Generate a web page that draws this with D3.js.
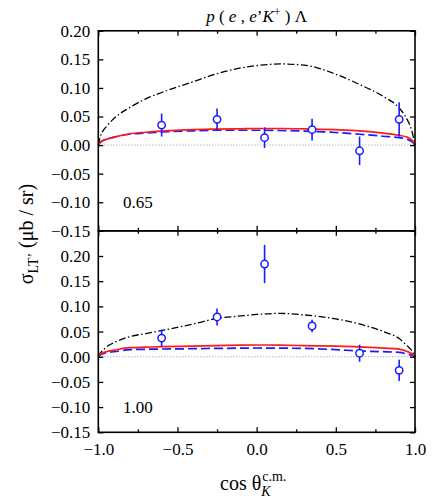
<!DOCTYPE html>
<html><head><meta charset="utf-8">
<script src="https://cdn.jsdelivr.net/npm/d3@7"></script>
</head><body style="margin:0">
<script>
// ---- data ----
const panelLabels = ["0.65", "1.00"];
const xTicks = [-1.0, -0.5, 0.0, 0.5, 1.0];
const xMinorTicks = [-0.75, -0.25, 0.25, 0.75];
const yTicks = [0.20, 0.15, 0.10, 0.05, 0.00, -0.05, -0.10, -0.15];

const dataX = [-0.6, -0.25, 0.05, 0.35, 0.65, 0.9];
const dataY065 = [0.035, 0.045, 0.013, 0.027, -0.010, 0.045];
const dataErr065 = [0.020, 0.019, 0.018, 0.019, 0.025, 0.030];
const dataY100 = [0.037, 0.079, 0.184, 0.061, 0.007, -0.027];
const dataErr100 = [0.017, 0.017, 0.038, 0.0125, 0.017, 0.021];

const curveX = [-1, -0.99, -0.97, -0.95, -0.9, -0.8, -0.7, -0.6, -0.4, -0.25, -0.1, 0.0, 0.15, 0.3, 0.5, 0.65, 0.8, 0.9, 0.95, 0.98, 1];
const dashDot065 = [0, 0.012, 0.025, 0.032, 0.047, 0.066, 0.081, 0.092, 0.111, 0.125, 0.135, 0.139, 0.142, 0.140, 0.124, 0.106, 0.085, 0.065, 0.045, 0.025, 0];
const solid065   = [0, 0.004, 0.008, 0.010, 0.014, 0.0198, 0.0225, 0.0245, 0.027, 0.028, 0.0285, 0.029, 0.029, 0.0285, 0.027, 0.025, 0.021, 0.017, 0.014, 0.009, 0];
const dashed065  = [0, 0.004, 0.008, 0.010, 0.014, 0.019, 0.021, 0.023, 0.025, 0.026, 0.026, 0.026, 0.0255, 0.0245, 0.022, 0.019, 0.0155, 0.013, 0.0105, 0.006, 0];
const dashDot100 = [0, 0.006, 0.013, 0.019, 0.028, 0.040, 0.046, 0.052, 0.065, 0.076, 0.081, 0.084, 0.086, 0.083, 0.075, 0.065, 0.050, 0.036, 0.022, 0.012, 0];
const solid100   = [0, 0.004, 0.008, 0.010, 0.013, 0.018, 0.019, 0.0199, 0.021, 0.022, 0.023, 0.0233, 0.023, 0.022, 0.021, 0.0195, 0.017, 0.015, 0.0105, 0.006, 0];
const dashed100  = [0, 0.003, 0.006, 0.008, 0.010, 0.014, 0.0148, 0.0153, 0.016, 0.0166, 0.017, 0.0173, 0.017, 0.0166, 0.014, 0.0115, 0.010, 0.0086, 0.0053, 0.003, 0];

// ---- layout ----
const FONT = "Liberation Serif";
const W = 436, H = 503;
const svg = d3.select("body").append("svg").attr("width", W).attr("height", H)
  .attr("font-family", FONT).style("display", "block");
const x = d3.scaleLinear().domain([-1, 1]).range([98.3, 415]);
const yTop = d3.scaleLinear().domain([-0.15, 0.20]).range([230.8, 30.8]);
const yBot = d3.scaleLinear().domain([-0.15, 0.25]).range([432.3, 230.8]);
const fmtY = d3.format(".2f"), fmtX = d3.format(".1f");
const BLUE = "#1a1aff", RED = "#ff1a1a";

const panels = [
  {y: yTop, label: panelLabels[0], labelY: 208, dy: dataY065, de: dataErr065, dd: dashDot065, so: solid065, da: dashed065},
  {y: yBot, label: panelLabels[1], labelY: 413, dy: dataY100, de: dataErr100, dd: dashDot100, so: solid100, da: dashed100}
];

panels.forEach((p, pi) => {
  const g = svg.append("g");
  const [yb, yt] = p.y.range();
  g.append("line").attr("x1", x(-1)).attr("x2", x(1)).attr("y1", p.y(0)).attr("y2", p.y(0))
    .attr("stroke", "#777").attr("stroke-width", 0.8).attr("stroke-dasharray", "1,2");
  const line = d3.line().x((d, i) => x(curveX[i])).y(d => p.y(d)).curve(d3.curveMonotoneX);
  g.append("path").attr("d", line(p.dd)).attr("fill", "none").attr("stroke", "#000")
    .attr("stroke-width", 1.3).attr("stroke-dasharray", "7,2.5,1.5,2.5");
  g.append("path").attr("d", line(p.da)).attr("fill", "none").attr("stroke", BLUE)
    .attr("stroke-width", 1.7).attr("stroke-dasharray", "9,4");
  g.append("path").attr("d", line(p.so)).attr("fill", "none").attr("stroke", RED)
    .attr("stroke-width", 1.7);
  dataX.forEach((xv, i) => {
    g.append("line").attr("x1", x(xv)).attr("x2", x(xv))
      .attr("y1", p.y(p.dy[i] - p.de[i])).attr("y2", p.y(p.dy[i] + p.de[i]))
      .attr("stroke", BLUE).attr("stroke-width", 1.6);
    g.append("circle").attr("cx", x(xv)).attr("cy", p.y(p.dy[i])).attr("r", 3.7)
      .attr("fill", "#fff").attr("stroke", BLUE).attr("stroke-width", 1.5);
  });
  const yv = yTicks.concat(pi === 1 ? [0.25] : []);
  const axL = d3.axisLeft(p.y).tickValues(yv).tickSizeInner(-5).tickSizeOuter(0).tickFormat(d => d > 0.21 ? "" : fmtY(d)).tickPadding(8);
  g.append("g").attr("transform", `translate(${x(-1)},0)`).call(axL);
  const axR = d3.axisRight(p.y).tickValues(yv).tickSizeInner(-5).tickSizeOuter(0).tickFormat("");
  g.append("g").attr("transform", `translate(${x(1)},0)`).call(axR);
  const axT = d3.axisTop(x).tickValues(xTicks).tickSizeInner(-5).tickSizeOuter(0).tickFormat("");
  const axTm = d3.axisTop(x).tickValues(xMinorTicks).tickSizeInner(-3).tickSizeOuter(0).tickFormat("");
  g.append("g").attr("transform", `translate(0,${yt})`).call(axT);
  g.append("g").attr("transform", `translate(0,${yt})`).call(axTm);
  const axB = d3.axisBottom(x).tickValues(xTicks).tickSizeInner(-5).tickSizeOuter(0)
    .tickFormat(pi === 1 ? fmtX : "").tickPadding(11);
  const axBm = d3.axisBottom(x).tickValues(xMinorTicks).tickSizeInner(-3).tickSizeOuter(0).tickFormat("");
  g.append("g").attr("transform", `translate(0,${yb})`).call(axB);
  g.append("g").attr("transform", `translate(0,${yb})`).call(axBm);
  g.selectAll(".domain").remove();
  g.selectAll("g").attr("font-family", FONT).attr("font-size", 17);
  g.selectAll(".tick line").attr("stroke", "#000").attr("stroke-width", 1.3);
  g.selectAll(".tick text").attr("font-family", FONT).attr("font-size", 17).attr("fill", "#000");
  g.append("rect").attr("x", x(-1)).attr("y", yt).attr("width", x(1) - x(-1)).attr("height", yb - yt)
    .attr("fill", "none").attr("stroke", "#000").attr("stroke-width", 1.6);
  g.append("text").attr("x", 123).attr("y", p.labelY).attr("font-family", FONT).attr("font-size", 17).text(p.label);
});

// title
const title = svg.append("text").attr("x", 256.6).attr("y", 22).attr("text-anchor", "middle")
  .attr("font-family", FONT).attr("font-size", 17);
title.append("tspan").attr("font-style", "italic").text("p");
title.append("tspan").text(" ( ");
title.append("tspan").attr("font-style", "italic").text("e");
title.append("tspan").text(" , ");
title.append("tspan").attr("font-style", "italic").text("e");
title.append("tspan").text("\u2019");
title.append("tspan").attr("font-style", "italic").text("K");
title.append("tspan").attr("dy", -6).attr("font-size", 12).text("+");
title.append("tspan").attr("dy", 6).text(" ) \u039B");

// y label
const yl = svg.append("text").attr("transform", "translate(33,234) rotate(-90)").attr("text-anchor", "middle")
  .attr("font-family", FONT).attr("font-size", 20);
yl.append("tspan").text("\u03C3");
yl.append("tspan").attr("dy", 5).attr("font-size", 14).text("LT\u2019");
yl.append("tspan").attr("dy", -5).text(" (\u03BCb / sr)");

// x label
const xl = svg.append("text").attr("x", 220).attr("y", 490).attr("font-family", FONT).attr("font-size", 20).text("cos \u03B8");
const wx = xl.node().getComputedTextLength();
svg.append("text").attr("x", 220 + wx + 1).attr("y", 481).attr("font-family", FONT).attr("font-size", 14).text("c.m.");
svg.append("text").attr("x", 220 + wx).attr("y", 496).attr("font-family", FONT).attr("font-size", 14).attr("font-style", "italic").text("K");
</script></body></html>
